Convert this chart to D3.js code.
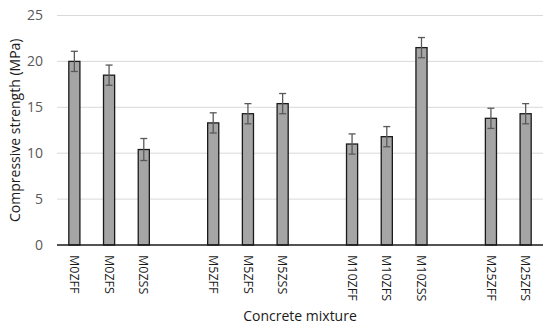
<!DOCTYPE html>
<html>
<head>
<meta charset="utf-8">
<script src="https://cdn.jsdelivr.net/npm/d3@7"></script>
<style>
  body { margin: 0; background: #fff; }
  text { font-family: "Open Sans", "Liberation Sans", sans-serif; }
</style>
</head>
<body>
<svg id="chart" width="550" height="328"></svg>
<script>
// categories, "" = empty slot between groups
let mixtures = ["M0ZFF", "M0ZFS", "M0ZSS", "", "M5ZFF", "M5ZFS", "M5ZSS", "",
                "M10ZFF", "M10ZFS", "M10ZSS", "", "M25ZFF", "M25ZFS"]
let strength = [20.0, 18.5, 10.4, null, 13.3, 14.3, 15.4, null,
                11.0, 11.8, 21.5, null, 13.8, 14.3]
let errors = [1.1, 1.1, 1.2, null, 1.1, 1.1, 1.1, null,
              1.1, 1.1, 1.1, null, 1.1, 1.1]
let yTicks = [0, 5, 10, 15, 20, 25]

const svg = d3.select("#chart")
const plotL = 57, plotR = 543, plotT = 15.5, plotB = 245

const x = d3.scaleBand()
    .domain(d3.range(mixtures.length))
    .range([plotL, plotR])
    .paddingInner(0.68)
    .paddingOuter(0.34)

const y = d3.scaleLinear().domain([0, 25]).range([plotB, plotT])

// gridlines
svg.append("g").selectAll("line")
    .data(yTicks.filter(t => t > 0))
    .enter().append("line")
    .attr("x1", plotL).attr("x2", plotR)
    .attr("y1", d => y(d)).attr("y2", d => y(d))
    .attr("stroke", "#d9d9d9").attr("stroke-width", 1)

// y axis labels
const yAxis = svg.append("g")
    .attr("transform", `translate(${plotL},0)`)
    .call(d3.axisLeft(y).tickValues(yTicks).tickSize(0).tickPadding(14))
yAxis.select(".domain").remove()
yAxis.selectAll("text").attr("fill", "#595959").style("font-size", "14px")

const data = mixtures.map((m, i) => ({ i: i, name: m, v: strength[i], e: errors[i] }))
    .filter(d => d.v != null)

// bars
svg.append("g").selectAll("rect")
    .data(data)
    .enter().append("rect")
    .attr("x", d => x(d.i))
    .attr("y", d => y(d.v))
    .attr("width", x.bandwidth())
    .attr("height", d => y(0) - y(d.v))
    .attr("fill", "#a5a5a5")
    .attr("stroke", "#1a1a1a")
    .attr("stroke-width", 1.3)

// error bars
const cx = d => x(d.i) + x.bandwidth() / 2
const eb = svg.append("g").selectAll("g")
    .data(data)
    .enter().append("g")
    .attr("stroke", "#595959").attr("stroke-width", 1.3)
eb.append("line")
    .attr("x1", cx).attr("x2", cx)
    .attr("y1", d => y(d.v - d.e)).attr("y2", d => y(d.v + d.e))
eb.append("line")
    .attr("x1", d => cx(d) - 3.5).attr("x2", d => cx(d) + 3.5)
    .attr("y1", d => y(d.v + d.e)).attr("y2", d => y(d.v + d.e))
eb.append("line")
    .attr("x1", d => cx(d) - 3.5).attr("x2", d => cx(d) + 3.5)
    .attr("y1", d => y(d.v - d.e)).attr("y2", d => y(d.v - d.e))

// x axis line
svg.append("line")
    .attr("x1", plotL).attr("x2", plotR)
    .attr("y1", plotB).attr("y2", plotB)
    .attr("stroke", "#1a1a1a").attr("stroke-width", 1.3)

// category labels, rotated
svg.append("g").selectAll("text")
    .data(data)
    .enter().append("text")
    .attr("transform", d => `translate(${cx(d)},255) rotate(90)`)
    .attr("dy", "0.35em")
    .attr("fill", "#1a1a1a")
    .style("font-size", "12.5px")
    .text(d => d.name)

// axis titles
svg.append("text")
    .attr("x", (plotL + plotR) / 2).attr("y", 321)
    .attr("text-anchor", "middle")
    .attr("fill", "#1a1a1a")
    .style("font-size", "14px")
    .text("Concrete mixture")

svg.append("text")
    .attr("transform", `translate(15,${(plotT + plotB) / 2}) rotate(-90)`)
    .attr("text-anchor", "middle")
    .attr("dy", "0.35em")
    .attr("fill", "#1a1a1a")
    .style("font-size", "14px")
    .text("Compressive strength (MPa)")
</script>
</body>
</html>
